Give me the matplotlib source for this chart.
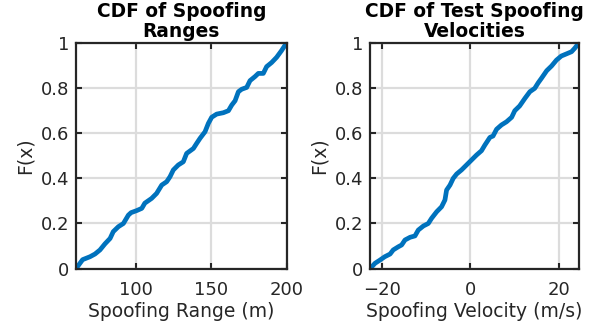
'''CDF plots of spoofing ranges and velocities
'''
import matplotlib
matplotlib.use('Agg')
import matplotlib.pyplot as plt

# traced points of the empirical CDFs
range_x = [60.4, 64.8, 69.7, 73.0, 76.3, 79.6, 83.0, 85.1, 88.5, 91.8, 95.1, 96.9,
           100.6, 104.0, 106.0, 110.5, 113.8, 117.2, 120.5, 122.7, 124.9, 128.2,
           131.5, 133.7, 138.2, 140.4, 142.6, 145.9, 148.1, 150.3, 153.6, 158.0,
           161.4, 163.6, 165.8, 168.0, 170.2, 173.5, 175.7, 179.0, 181.2, 184.5,
           186.7, 190.0, 193.3, 196.6, 200.0]
range_f = [0.0, 0.04, 0.053, 0.065, 0.083, 0.11, 0.134, 0.164, 0.186, 0.2, 0.237, 0.248,
           0.257, 0.267, 0.29, 0.311, 0.333, 0.37, 0.385, 0.407, 0.437, 0.459,
           0.473, 0.51, 0.532, 0.555, 0.577, 0.606, 0.643, 0.67, 0.684, 0.69,
           0.699, 0.724, 0.743, 0.783, 0.794, 0.802, 0.832, 0.85, 0.864, 0.864,
           0.894, 0.912, 0.935, 0.965, 1.0]

vel_x = [-22.63, -21.5, -20.4, -19.3, -18.1, -17.4, -16.25, -15.5, -14.75, -13.6,
         -12.5, -11.75, -10.6, -9.5, -8.75, -7.6, -6.5, -5.74, -5.37, -4.6, -3.87,
         -3.1, -2.0, -0.87, 0.26, 1.39, 2.5, 3.26, 4.4, 5.1, 5.9, 7.0, 8.14, 9.3,
         10.0, 11.1, 12.3, 13.4, 14.5, 15.3, 16.0, 17.2, 18.3, 19.4, 20.5, 21.6,
         22.8, 23.5, 24.5]
vel_f = [0.0, 0.024, 0.038, 0.053, 0.065, 0.083, 0.097, 0.105, 0.127, 0.139,
         0.145, 0.171, 0.189, 0.2, 0.223, 0.252, 0.274, 0.304, 0.348, 0.37, 0.4,
         0.419, 0.437, 0.459, 0.481, 0.503, 0.522, 0.547, 0.581, 0.587, 0.617, 0.636,
         0.65, 0.67, 0.699, 0.72, 0.754, 0.783, 0.798, 0.823, 0.842, 0.876, 0.897,
         0.923, 0.941, 0.95, 0.96, 0.975, 1.0]

range_ticks = [100, 150, 200]
vel_ticks = [-20, 0, 20]
f_ticks = [0, 0.2, 0.4, 0.6, 0.8, 1]
f_labels = ['0', '0.2', '0.4', '0.6', '0.8', '1']

TEXT = '#262626'
BLUE = '#0072BD'
plt.rcParams['font.family'] = 'DejaVu Sans'


def cdf_axes(fig, rect, x, f, xticks, xlabel, title):
    ax = fig.add_axes(rect)
    ax.plot(x, f, color=BLUE, linewidth=3.4, solid_capstyle='round')
    ax.set_xlim(x[0], x[-1])
    ax.set_ylim(0, 1)
    ax.set_xticks(xticks)
    ax.set_yticks(f_ticks)
    ax.set_yticklabels(f_labels)
    ax.grid(True, color='#dcdcdc', linewidth=1.6)
    ax.set_axisbelow(True)
    ax.tick_params(direction='in', top=True, right=True, length=4, width=1.5,
                   colors=TEXT, labelsize=13)
    ax.tick_params(axis='x', pad=9)
    ax.tick_params(axis='y', pad=5)
    for s in ax.spines.values():
        s.set_color(TEXT)
        s.set_linewidth(1.6)
    ax.set_xlabel(xlabel, color=TEXT, fontsize=13.5, labelpad=2)
    ax.set_ylabel('F(x)', color=TEXT, fontsize=13.5, labelpad=4)
    ax.set_title(title, fontweight='bold', fontsize=13.4, color='black',
                 linespacing=1.08, pad=4)
    return ax


fig = plt.figure(figsize=(6.06, 3.29), dpi=100)
cdf_axes(fig, [0.1254, 0.1833, 0.3477, 0.687], range_x, range_f, range_ticks,
         'Spoofing Range (m)', 'CDF of Spoofing\nRanges')
cdf_axes(fig, [0.6106, 0.1833, 0.3450, 0.687], vel_x, vel_f, vel_ticks,
         'Spoofing Velocity (m/s)', 'CDF of Test Spoofing\nVelocities')
fig.savefig('out.png', dpi=100)
